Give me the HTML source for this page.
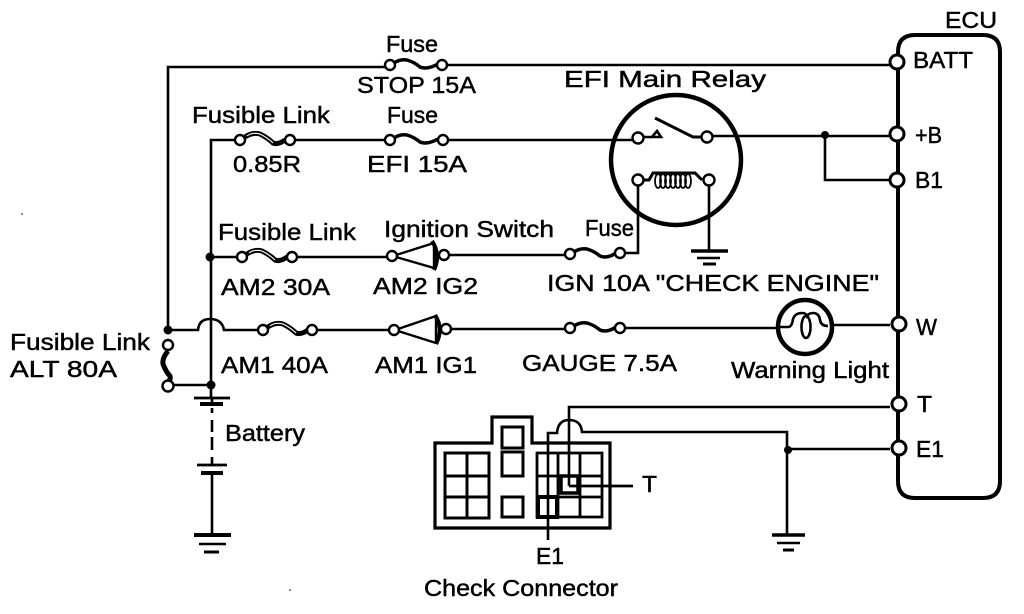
<!DOCTYPE html>
<html><head><meta charset="utf-8"><style>
html,body{margin:0;padding:0;background:#fff}
svg{display:block}
text{font-family:"Liberation Sans",sans-serif;font-size:23px;fill:#000;stroke:#000;stroke-width:.45px}
</style></head><body>
<svg width="1024" height="614" viewBox="0 0 1024 614" xmlns="http://www.w3.org/2000/svg">
<g fill="none" stroke="#000" stroke-width="2.6">
<!-- ECU -->
<path d="M898 52Q898 35 915 35H983Q1000 35 1000 52V481Q1000 498 983 498H915Q898 498 898 481Z" stroke-width="4"/>
<!-- wires -->
<path d="M168 330V67H390M442 65H890"/>
<path d="M211 398V140H240M290 140H390M443 140H633M644 137H652M713 136H890"/>
<path d="M825 136V180H890"/>
<path d="M211 257H242M292 257H392M449 255H570M620 253H638V185"/>
<path d="M168 330H198Q199 319 210 319Q222 319 224 330H263M312 330H394M451 329H570M620 328H778M832 325H890"/>
<path d="M173 385H211"/>
<!-- battery -->
<path d="M212 398V404M212 408V413M212 420V432M212 437V450M212 457V465M212 473V535"/>
<path d="M194 398H230M197 465H227" stroke-width="2.8"/>
<path d="M200 404H223M201 473H223" stroke-width="4"/>
<path d="M194 535H231" stroke-width="4"/>
<path d="M199 544H226"/><path d="M204 552H219" stroke-width="3"/>
<!-- relay -->
<circle cx="676" cy="160" r="65" stroke-width="4.5"/>
<path d="M655 118L693 137H702" stroke-width="3"/>
<path d="M652 137L657 131L661 137Z"/>
<path d="M709 185V250"/>
<path d="M644 180H649L653 173H695L702 180" stroke-width="3"/>
<g stroke-width="1.8">
<ellipse cx="658" cy="181" rx="3" ry="7"/><ellipse cx="663" cy="181" rx="3" ry="7"/><ellipse cx="668" cy="181" rx="3" ry="7"/><ellipse cx="673" cy="181" rx="3" ry="7"/><ellipse cx="678" cy="181" rx="3" ry="7"/><ellipse cx="683" cy="181" rx="3" ry="7"/><ellipse cx="688" cy="181" rx="3" ry="7"/>
</g>
<path d="M691 251H728" stroke-width="3.5"/><path d="M697 258H720"/><path d="M703 264H716" stroke-width="3"/>
<!-- warning light -->
<circle cx="805" cy="327" r="27" stroke-width="4.5"/>
<path d="M778 327H788Q792 327 793 319Q795 313 802 313Q806 313 807 316Q809 313 813 313Q819 313 820 320Q821 326 828 326"/>
<ellipse cx="806" cy="327" rx="4.5" ry="11"/>
<!-- T E1 wires -->
<path d="M569 486V407H890"/>
<path d="M548 540V433H557Q558 420 569 420Q581 420 582 432H787V535M787 449H890"/>
<path d="M569 486H633" stroke-width="2.8"/>
<path d="M772 535H805" stroke-width="3.5"/><path d="M777 543H800"/><path d="M783 550H794" stroke-width="3"/>
<!-- connector -->
<path d="M435 443H492V417H532V443H610V528H435Z" stroke-width="3.2"/>
<path d="M445 453H489V518H445ZM467 453V518M445 476H489M445 497H489" stroke-width="3"/>
<rect x="502" y="427" width="21" height="21" stroke-width="3"/>
<rect x="502" y="452" width="21" height="24" stroke-width="3"/>
<rect x="502" y="497" width="21" height="20" stroke-width="3"/>
<path d="M537 453H602V517H537ZM558 453V517M580 453V517M537 476H602M537 497H602" stroke-width="2.8"/>
<path d="M561 476H578V493H561Z" stroke-width="3.5"/>
<path d="M538 497H557V517H538Z" stroke-width="4"/>
<!-- fusible links -->
<g stroke-width="5">
<path id="f" d="M245 137Q252 132 260 134Q268 138 273 143Q278 145 285 140"/>
<path d="M247 254Q254 249 262 251Q270 255 275 260Q280 262 287 257"/>
<path d="M268 327Q275 322 283 324Q291 328 296 333Q301 335 308 330"/>
<path d="M168 351Q162 358 163 364Q166 372 170 376Q171 380 168 382"/>
</g>
<g stroke="#fff" stroke-width="1.1">
<path d="M247 136Q252 132 260 134Q268 138 273 143"/>
<path d="M249 253Q254 249 262 251Q270 255 275 260"/>
<path d="M270 326Q275 322 283 324Q291 328 296 333"/>
</g>
<!-- fuses -->
<g stroke-width="3.5">
<path d="M394 63Q400 59 407 60Q414 62 420 67Q427 70 438 64"/>
<path d="M394 138Q400 134 407 135Q414 137 420 142Q427 145 438 139"/>
<path d="M574 252Q580 248 587 249Q594 251 600 256Q607 259 616 253"/>
<path d="M574 326Q580 322 587 323Q594 325 600 330Q607 333 616 327"/>
</g>
<!-- switches -->
<path d="M396 255L434 243M396 257L434 268M434 243V268" stroke-width="2.4"/>
<path d="M432 241Q441 255 434 270" stroke-width="4"/>
<path d="M398 329L436 316M398 331L436 343M436 316V343" stroke-width="2.4"/>
<path d="M435 315Q444 329 436 344" stroke-width="4"/>
</g>
<!-- terminals -->
<g fill="#fff" stroke="#000" stroke-width="2.4">
<circle cx="390" cy="65" r="5"/><circle cx="442" cy="65" r="5"/>
<circle cx="240" cy="140" r="5"/><circle cx="290" cy="140" r="5"/><circle cx="390" cy="140" r="5"/><circle cx="443" cy="140" r="5"/>
<circle cx="638" cy="138" r="5.5"/><circle cx="707" cy="137" r="5.5"/><circle cx="638" cy="180" r="5.5"/><circle cx="709" cy="180" r="5.5"/>
<circle cx="242" cy="257" r="5"/><circle cx="292" cy="257" r="5"/><circle cx="392" cy="256" r="5"/><circle cx="444" cy="255" r="5"/><circle cx="570" cy="254" r="5"/><circle cx="620" cy="253" r="5"/>
<circle cx="263" cy="330" r="5"/><circle cx="312" cy="330" r="5"/><circle cx="394" cy="330" r="5"/><circle cx="446" cy="329" r="5"/><circle cx="570" cy="328" r="5"/><circle cx="620" cy="328" r="5"/>
<circle cx="168" cy="345" r="5"/><circle cx="168" cy="386" r="5.5"/>
<g stroke-width="3"><circle cx="897" cy="62" r="7"/><circle cx="897" cy="134" r="7"/><circle cx="897" cy="180" r="7"/><circle cx="899" cy="324" r="7"/><circle cx="899" cy="404" r="7"/><circle cx="899" cy="448" r="7"/></g>
</g>
<g fill="#000"><circle cx="168" cy="330" r="4.5"/><circle cx="210" cy="257" r="4.5"/><circle cx="211" cy="385" r="4.5"/><circle cx="825" cy="135" r="4"/><circle cx="788" cy="450" r="4"/></g>
<!-- text -->
<g lengthAdjust="spacingAndGlyphs">
<text x="945" y="28" textLength="52" lengthAdjust="spacingAndGlyphs">ECU</text>
<text x="913" y="68" textLength="60" lengthAdjust="spacingAndGlyphs">BATT</text>
<text x="915" y="143" textLength="27" lengthAdjust="spacingAndGlyphs">+B</text>
<text x="915" y="188" textLength="28" lengthAdjust="spacingAndGlyphs">B1</text>
<text x="916" y="335" textLength="21" lengthAdjust="spacingAndGlyphs">W</text>
<text x="917" y="412" textLength="15" lengthAdjust="spacingAndGlyphs">T</text>
<text x="916" y="457" textLength="28" lengthAdjust="spacingAndGlyphs">E1</text>
<text x="386" y="52" textLength="52" lengthAdjust="spacingAndGlyphs">Fuse</text>
<text x="357" y="93" textLength="119" lengthAdjust="spacingAndGlyphs">STOP 15A</text>
<text x="564" y="87" textLength="202" lengthAdjust="spacingAndGlyphs">EFI Main Relay</text>
<text x="192" y="123" textLength="138" lengthAdjust="spacingAndGlyphs">Fusible Link</text>
<text x="387" y="123" textLength="51" lengthAdjust="spacingAndGlyphs">Fuse</text>
<text x="233" y="172" textLength="68" lengthAdjust="spacingAndGlyphs">0.85R</text>
<text x="367" y="172" textLength="100" lengthAdjust="spacingAndGlyphs">EFI 15A</text>
<text x="218" y="240" textLength="138" lengthAdjust="spacingAndGlyphs">Fusible Link</text>
<text x="384" y="237" textLength="170" lengthAdjust="spacingAndGlyphs">Ignition Switch</text>
<text x="585" y="236" textLength="49" lengthAdjust="spacingAndGlyphs">Fuse</text>
<text x="221" y="295" textLength="109" lengthAdjust="spacingAndGlyphs">AM2 30A</text>
<text x="373" y="294" textLength="105" lengthAdjust="spacingAndGlyphs">AM2 IG2</text>
<text x="547" y="291" textLength="332" lengthAdjust="spacingAndGlyphs">IGN 10A "CHECK ENGINE"</text>
<text x="10" y="350" textLength="140" lengthAdjust="spacingAndGlyphs">Fusible Link</text>
<text x="10" y="377" textLength="107" lengthAdjust="spacingAndGlyphs">ALT 80A</text>
<text x="221" y="373" textLength="107" lengthAdjust="spacingAndGlyphs">AM1 40A</text>
<text x="375" y="373" textLength="102" lengthAdjust="spacingAndGlyphs">AM1 IG1</text>
<text x="522" y="371" textLength="155" lengthAdjust="spacingAndGlyphs">GAUGE 7.5A</text>
<text x="731" y="378" textLength="158" lengthAdjust="spacingAndGlyphs">Warning Light</text>
<text x="225" y="441" textLength="80" lengthAdjust="spacingAndGlyphs">Battery</text>
<text x="642" y="492" textLength="15" lengthAdjust="spacingAndGlyphs">T</text>
<text x="536" y="564" textLength="28" lengthAdjust="spacingAndGlyphs">E1</text>
<text x="424" y="596" textLength="194" lengthAdjust="spacingAndGlyphs">Check Connector</text>
</g>
<circle cx="22" cy="214" r=".8" fill="#000"/><circle cx="290" cy="590" r=".8" fill="#000"/>
</svg>
</body></html>
